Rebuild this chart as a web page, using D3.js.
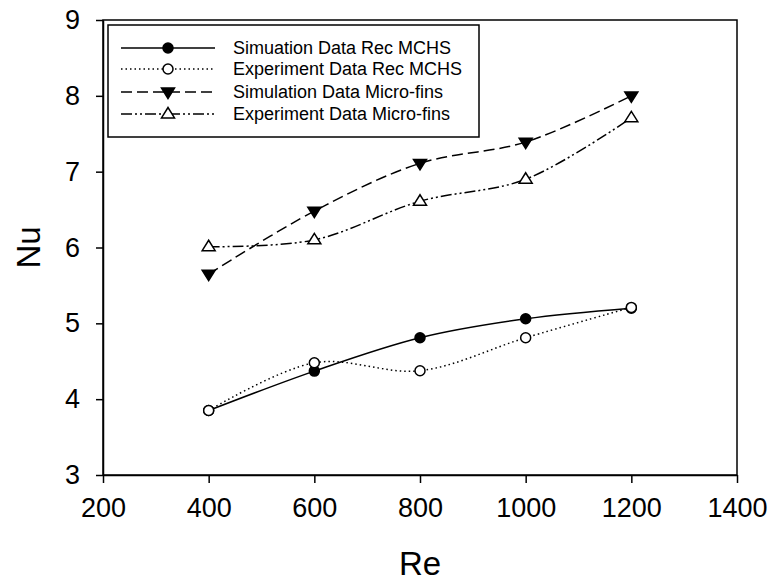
<!DOCTYPE html>
<html>
<head>
<meta charset="utf-8">
<script src="https://cdn.jsdelivr.net/npm/d3@7"></script>
<style>
  html, body { margin: 0; padding: 0; background: #fff; }
  svg { display: block; font-family: "Liberation Sans", Arial, sans-serif; }
</style>
</head>
<body>
<svg id="chart" width="771" height="583"></svg>
<script>
// Reynolds numbers on the x axis
const reValues = [400, 600, 800, 1000, 1200];
// Nusselt number for each series
const simRec   = [3.85, 4.37, 4.81, 5.06, 5.20];
const expRec   = [3.85, 4.48, 4.375, 4.81, 5.21];
const simFins  = [5.65, 6.48, 7.11, 7.39, 8.00];
const expFins  = [6.01, 6.10, 6.61, 6.90, 7.71];
const seriesNames = [
  "Simuation Data Rec MCHS",
  "Experiment Data Rec MCHS",
  "Simulation Data Micro-fins",
  "Experiment Data Micro-fins"
];
const xTicks = [200, 400, 600, 800, 1000, 1200, 1400];
const yTicks = [3, 4, 5, 6, 7, 8, 9];

const svg = d3.select("#chart");
const plotLeft = 103, plotRight = 737, plotTop = 20, plotBottom = 475;

const x = d3.scaleLinear().domain([200, 1400]).range([plotLeft, plotRight]);
const y = d3.scaleLinear().domain([3, 9]).range([plotBottom, plotTop]);

// plot frame
svg.append("rect")
  .attr("x", plotLeft).attr("y", plotTop)
  .attr("width", plotRight - plotLeft).attr("height", plotBottom - plotTop)
  .attr("fill", "none").attr("stroke", "#000").attr("stroke-width", 1.5);

// axes
const xAxis = svg.append("g").attr("transform", `translate(0,${plotBottom})`)
  .call(d3.axisBottom(x).tickValues(xTicks).tickSize(8).tickSizeOuter(0).tickPadding(15).tickFormat(d3.format("d")));
const yAxis = svg.append("g").attr("transform", `translate(${plotLeft},0)`)
  .call(d3.axisLeft(y).tickValues(yTicks).tickSize(7).tickSizeOuter(0).tickPadding(16).tickFormat(d3.format("d")));
[xAxis, yAxis].forEach(g => {
  g.select(".domain").attr("stroke", "#000").attr("stroke-width", 1.5);
  g.selectAll(".tick line").attr("stroke", "#000").attr("stroke-width", 1.5);
  g.selectAll(".tick text").attr("fill", "#000")
    .style("font-size", "27px").attr("font-family", "Liberation Sans, Arial, sans-serif");
});
xAxis.selectAll(".tick text").attr("dy", "0.71em");

// axis titles
svg.append("text").attr("x", (plotLeft + plotRight) / 2).attr("y", 575)
  .attr("text-anchor", "middle").style("font-size", "33px").text("Re");
svg.append("text")
  .attr("transform", `translate(40,${(plotTop + plotBottom) / 2}) rotate(-90)`)
  .attr("text-anchor", "middle").style("font-size", "33px").text("Nu");

const styles = [
  { values: simRec,  dash: null,              marker: "circle",  fill: "#000" },
  { values: expRec,  dash: "1.5,3",           marker: "circle",  fill: "#fff" },
  { values: simFins, dash: "11,5",            marker: "tridown", fill: "#000" },
  { values: expFins, dash: "11,3,2,3,2,3",    marker: "triup",   fill: "#fff" }
];

const line = d3.line().x(d => x(d[0])).y(d => y(d[1])).curve(d3.curveCatmullRom.alpha(0.5));

function drawMarker(g, type, cx, cy, fill) {
  if (type === "circle") {
    g.append("circle").attr("cx", cx).attr("cy", cy).attr("r", 5)
      .attr("fill", fill).attr("stroke", "#000").attr("stroke-width", 1.5);
  } else {
    const s = 6.5;
    const pts = type === "triup"
      ? [[cx - s, cy + s * 0.6], [cx + s, cy + s * 0.6], [cx, cy - s * 1.0]]
      : [[cx - s, cy - s * 0.6], [cx + s, cy - s * 0.6], [cx, cy + s * 1.0]];
    g.append("polygon").attr("points", pts.map(p => p.join(",")).join(" "))
      .attr("fill", fill).attr("stroke", "#000").attr("stroke-width", 1.5)
      .attr("stroke-linejoin", "miter");
  }
}

const plot = svg.append("g");
styles.forEach(st => {
  const data = reValues.map((r, i) => [r, st.values[i]]);
  plot.append("path").datum(data).attr("d", line)
    .attr("fill", "none").attr("stroke", "#000").attr("stroke-width", 1.5)
    .attr("stroke-dasharray", st.dash);
});
styles.forEach(st => {
  reValues.forEach((r, i) => drawMarker(plot, st.marker, x(r), y(st.values[i]), st.fill));
});

// legend
const lg = svg.append("g");
lg.append("rect").attr("x", 108).attr("y", 25).attr("width", 371).attr("height", 112)
  .attr("fill", "#fff").attr("stroke", "#000").attr("stroke-width", 1.5);
const rowY = [48, 69, 92, 114];
styles.forEach((st, i) => {
  lg.append("line").attr("x1", 121).attr("x2", 215).attr("y1", rowY[i]).attr("y2", rowY[i])
    .attr("stroke", "#000").attr("stroke-width", 1.5).attr("stroke-dasharray", st.dash);
  drawMarker(lg, st.marker, 168, rowY[i], st.fill);
  lg.append("text").attr("x", 233).attr("y", rowY[i]).attr("dy", "0.36em")
    .style("font-size", "18px").text(seriesNames[i]);
});
</script>
</body>
</html>
